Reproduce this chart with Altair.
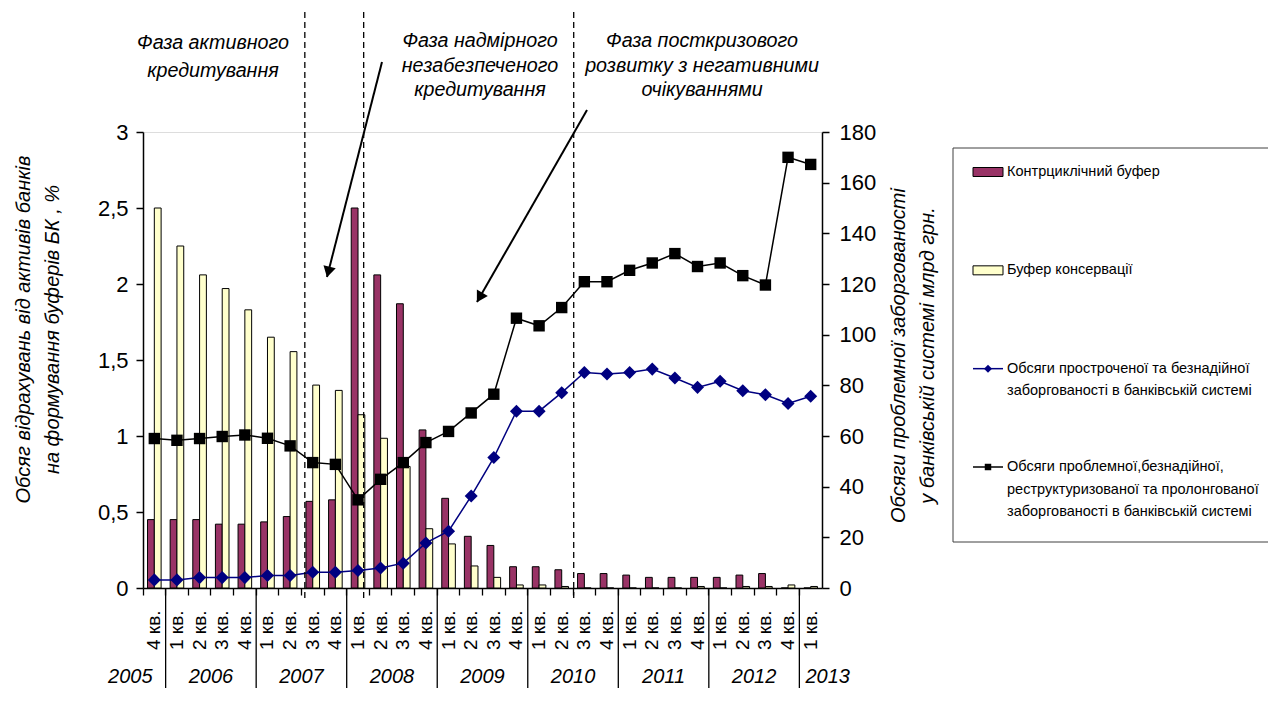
import altair as alt
import pandas as pd

# ---------------- data ----------------
QUARTERS = [
    "2005-4",
    "2006-1", "2006-2", "2006-3", "2006-4",
    "2007-1", "2007-2", "2007-3", "2007-4",
    "2008-1", "2008-2", "2008-3", "2008-4",
    "2009-1", "2009-2", "2009-3", "2009-4",
    "2010-1", "2010-2", "2010-3", "2010-4",
    "2011-1", "2011-2", "2011-3", "2011-4",
    "2012-1", "2012-2", "2012-3", "2012-4",
    "2013-1",
]
YEARS = ["2005", "2006", "2007", "2008", "2009", "2010", "2011", "2012", "2013"]

SERIES = [
    "Контрциклічний буфер",
    "Буфер консервації",
    "Обсяги простроченої та безнадійної заборгованості в банківській системі",
    "Обсяги проблемної,безнадійної, реструктуризованої та пролонгованої заборгованості в банківській системі",
]
LEGEND_LINES = [
    ["Контрциклічний буфер"],
    ["Буфер консервації"],
    ["Обсяги простроченої та безнадійної", "заборгованості в банківській системі"],
    ["Обсяги проблемної,безнадійної,", "реструктуризованої та пролонгованої",
     "заборгованості в банківській системі"],
]

COUNTERCYCLICAL = [0.45, 0.45, 0.45, 0.42, 0.42,
                   0.435, 0.47, 0.57, 0.58,
                   2.50, 2.06, 1.87, 1.04,
                   0.59, 0.34, 0.28, 0.14,
                   0.14, 0.12, 0.095, 0.095,
                   0.085, 0.07, 0.07, 0.07,
                   0.07, 0.085, 0.095, 0.0,
                   0.0]
CONSERVATION = [2.50, 2.25, 2.06, 1.97, 1.83,
                1.65, 1.555, 1.335, 1.30,
                1.14, 0.985, 0.80, 0.39,
                0.29, 0.145, 0.07, 0.02,
                0.02, 0.01, 0.0, 0.0,
                0.0, 0.0, 0.0, 0.01,
                0.0, 0.01, 0.01, 0.02,
                0.01]
OVERDUE = [3.2, 3.2, 4.1, 4.1, 4.1,
           4.9, 4.9, 6.2, 6.2,
           6.9, 7.9, 9.8, 17.8,
           22.4, 36.3, 51.5, 69.8,
           69.8, 77.1, 85.1, 84.5,
           85.1, 86.4, 82.9, 79.2,
           81.6, 77.9, 76.3, 72.8,
           75.7]
PROBLEM = [59.0, 58.3, 59.0, 59.8, 60.4,
           59.1, 56.1, 49.5, 48.8,
           34.8, 42.9, 49.5, 57.4,
           61.8, 69.1, 76.5, 106.5,
           103.5, 110.7, 120.9, 120.9,
           125.4, 128.3, 132.0, 126.9,
           128.3, 123.3, 119.6, 170.0,
           167.2]

PHASE_TEXTS = [
    ["Фаза активного", "кредитування"],
    ["Фаза надмірного", "незабезпеченого", "кредитування"],
    ["Фаза посткризового", "розвитку з негативними", "очікуваннями"],
]
PHASE_BORDERS = ["2007-3", "2008-1", "2010-3"]
LEFT_TITLE = ["Обсяг відрахувань від активів банків", "на формування буферів БК , %"]
RIGHT_TITLE = ["Обсяги проблемної заборгованості", "у банківській системі млрд грн."]

# ---------------- styling ----------------
FONT = "Liberation Sans"
W, H = 679, 456
COLORS = ["#993366", "#FFFFCC", "#000080", "#000000"]

bars_df = pd.DataFrame({
    "cat": QUARTERS * 2,
    "series": [SERIES[0]] * len(QUARTERS) + [SERIES[1]] * len(QUARTERS),
    "value": COUNTERCYCLICAL + CONSERVATION,
})
lines_df = pd.DataFrame({
    "cat": QUARTERS * 2,
    "series": [SERIES[2]] * len(QUARTERS) + [SERIES[3]] * len(QUARTERS),
    "value": OVERDUE + PROBLEM,
})
legend_df = pd.DataFrame({"series": SERIES, "label": ["\n".join(l) for l in LEGEND_LINES]})
ONE = pd.DataFrame({"k": [0]})

XS = alt.Scale(domain=QUARTERS, paddingInner=0, paddingOuter=0)
XAXIS = alt.Axis(
    title=None, bandPosition=0, labelOffset=0,
    labelAngle=270, labelExpr="split(datum.value, '-')[1] + ' кв.'",
    labelFont=FONT, labelFontSize=19, labelColor="black", labelPadding=15,
    labelOverlap=False, tickSize=7, tickColor="black", tickWidth=1.3,
    domainColor="black", domainWidth=1.5, grid=False,
)


def X(**kw):
    return alt.X("cat:N", scale=XS, axis=XAXIS, **kw)


CSCALE = alt.Scale(domain=SERIES, range=COLORS)


def COLOR():
    return alt.Color("series:N", scale=CSCALE, legend=None)


LEFT_AXIS = alt.Axis(
    orient="left", values=[0, 0.5, 1, 1.5, 2, 2.5, 3], grid=False,
    labelExpr="replace(format(datum.value, '.1~f'), '.', ',')",
    labelFont=FONT, labelFontSize=22, labelColor="black", labelPadding=8,
    labelFlush=False, labelOverlap=False,
    tickSize=7, tickColor="black", tickWidth=1.5, domainColor="black", domainWidth=1.5,
    title=LEFT_TITLE, titleFont=FONT, titleFontSize=20, titleFontStyle="italic",
    titleFontWeight="normal", titleColor="black", titleAngle=270,
    titleX=-130, titleY=197, titleAlign="center", titleBaseline="top", titleLineHeight=29,
)
RIGHT_AXIS = alt.Axis(
    orient="right", values=list(range(0, 181, 20)), grid=False, format="d",
    labelFont=FONT, labelFontSize=22, labelColor="black", labelPadding=10,
    labelFlush=False, labelOverlap=False,
    tickSize=7, tickColor="black", tickWidth=1.5, domainColor="black", domainWidth=1.5,
    title=RIGHT_TITLE, titleFont=FONT, titleFontSize=20, titleFontStyle="italic",
    titleFontWeight="normal", titleColor="black", titleAngle=270,
    titleX=66, titleY=223, titleAlign="center", titleBaseline="top", titleLineHeight=29,
)
RS = alt.Scale(domain=[0, 180], nice=False)

# ---------------- chart layers ----------------
bars = alt.Chart(bars_df).mark_bar(stroke="black", strokeWidth=1).encode(
    x=X(),
    xOffset=alt.XOffset("series:N", scale=alt.Scale(domain=SERIES[:2], paddingInner=0, paddingOuter=0.665)),
    y=alt.Y("value:Q", scale=alt.Scale(domain=[0, 3], nice=False), axis=LEFT_AXIS),
    color=COLOR(),
)

line_layer = alt.Chart(lines_df).mark_line(strokeWidth=1.5).encode(
    x=X(), y=alt.Y("value:Q", scale=RS, axis=RIGHT_AXIS), color=COLOR(),
)
diamonds = alt.Chart(lines_df).transform_filter(alt.datum.series == SERIES[2]).mark_point(
    shape="diamond", filled=True, size=170, opacity=1).encode(
    x=X(), y=alt.Y("value:Q", scale=RS, axis=RIGHT_AXIS), color=COLOR(),
)
squares = alt.Chart(lines_df).transform_filter(alt.datum.series == SERIES[3]).mark_point(
    shape="square", filled=True, size=130, opacity=1).encode(
    x=X(), y=alt.Y("value:Q", scale=RS, axis=RIGHT_AXIS), color=COLOR(),
)
right = alt.layer(line_layer, diamonds, squares)

# ---------------- legend (own point scale for entry rows) ----------------
LY = alt.Y("series:N", scale=alt.Scale(type="point", domain=SERIES, range=[40, 335], padding=0), axis=None)
leg_box = alt.Chart(ONE).mark_rect(fill="white", stroke="#404040", strokeWidth=1).encode(
    x=alt.value(810), x2=alt.value(1150), y=alt.value(16), y2=alt.value(410))
leg_bars = alt.Chart(legend_df).transform_filter(
    alt.FieldOneOfPredicate(field="series", oneOf=SERIES[:2])).mark_point(
    shape="M-1,-0.3H1V0.3H-1Z", size=900, filled=True, stroke="black", strokeWidth=1, opacity=1).encode(
    x=alt.value(845), y=LY, color=COLOR())
leg_lines = alt.Chart(legend_df).transform_filter(
    alt.FieldOneOfPredicate(field="series", oneOf=SERIES[2:])).mark_rule(strokeWidth=1.5).encode(
    x=alt.value(830), x2=alt.value(860), y=LY, color=COLOR())
leg_diam = alt.Chart(legend_df).transform_filter(alt.datum.series == SERIES[2]).mark_point(
    shape="diamond", filled=True, size=64, opacity=1).encode(x=alt.value(845), y=LY, color=COLOR())
leg_sq = alt.Chart(legend_df).transform_filter(alt.datum.series == SERIES[3]).mark_point(
    shape="square", filled=True, size=42, opacity=1).encode(x=alt.value(845), y=LY, color=COLOR())
leg_text = alt.Chart(legend_df).mark_text(
    font=FONT, fontSize=14.5, align="left", baseline="top", dy=-7, lineBreak="\n",
    lineHeight=22.5, color="black").encode(x=alt.value(864), y=LY, text="label:N")
legend_layer = alt.layer(leg_box, leg_bars, leg_lines, leg_diam, leg_sq, leg_text)

# ---------------- annotations ----------------
phase_positions = [0.15, 0.75, 0.03]
phase_rules = [
    alt.Chart(pd.DataFrame({"cat": [c]})).mark_rule(
        color="black", strokeWidth=1.3, strokeDash=[6, 4]).encode(
        x=X(bandPosition=bp), y=alt.value(-120), y2=alt.value(H + 10))
    for c, bp in zip(PHASE_BORDERS, phase_positions)
]

phase_xy = [(70, -99, 28), (337, -101, 24.5), (559, -101, 24.5)]
phase_texts = [
    alt.Chart(ONE).mark_text(font=FONT, fontSize=19.7, fontStyle="italic", align="center",
                             baseline="top", lineHeight=lh, color="black").encode(
        x=alt.value(px), y=alt.value(py), text=alt.value(t))
    for t, (px, py, lh) in zip(PHASE_TEXTS, phase_xy)
]

arrows = []
for (x1, y1, x2, y2, hx, hy, ang) in [(239, -70, 184, 145, 185.3, 140, 14),
                                       (444, -22, 334, 170, 336.6, 165.5, 30)]:
    arrows.append(alt.Chart(ONE).mark_rule(color="black", strokeWidth=2).encode(
        x=alt.value(x1), y=alt.value(y1), x2=alt.value(x2), y2=alt.value(y2)))
    arrows.append(alt.Chart(ONE).mark_point(shape="triangle-down", filled=True, size=160,
                                            angle=ang, color="black", opacity=1).encode(
        x=alt.value(hx), y=alt.value(hy)))

year_sep = alt.Chart(pd.DataFrame({"cat": [y + "-1" for y in YEARS[1:]]})).mark_rule(
    color="black", strokeWidth=1.3).encode(
    x=X(bandPosition=0), y=alt.value(H), y2=alt.value(H + 100))

year_mid = alt.Chart(pd.DataFrame({"cat": [y + "-2" for y in YEARS[1:-1]], "year": YEARS[1:-1]})).mark_text(
    font=FONT, fontSize=20, fontStyle="italic", baseline="middle", align="center", color="black").encode(
    x=X(bandPosition=1), y=alt.value(H + 89), text="year:N")
year_first = alt.Chart(pd.DataFrame({"cat": [QUARTERS[0]], "year": [YEARS[0]]})).mark_text(
    font=FONT, fontSize=20, fontStyle="italic", baseline="middle", align="center", color="black",
    dx=-24).encode(x=X(bandPosition=0.5), y=alt.value(H + 89), text="year:N")
year_last = alt.Chart(pd.DataFrame({"cat": [QUARTERS[-1]], "year": [YEARS[-1]]})).mark_text(
    font=FONT, fontSize=20, fontStyle="italic", baseline="middle", align="center", color="black",
    dx=17).encode(x=X(bandPosition=0.5), y=alt.value(H + 89), text="year:N")

chart = alt.layer(
    bars, right, legend_layer, *phase_rules, *phase_texts, *arrows,
    year_sep, year_mid, year_first, year_last,
).resolve_scale(y="independent").properties(
    width=W, height=H,
    autosize=alt.AutoSizeParams(type="none"),
    padding={"left": 135, "top": 124, "right": 446, "bottom": 100},
).configure_view(stroke="#808080", strokeWidth=1.5).configure(font=FONT)

chart.save("out.html", embed_options={"renderer": "svg", "actions": False})
